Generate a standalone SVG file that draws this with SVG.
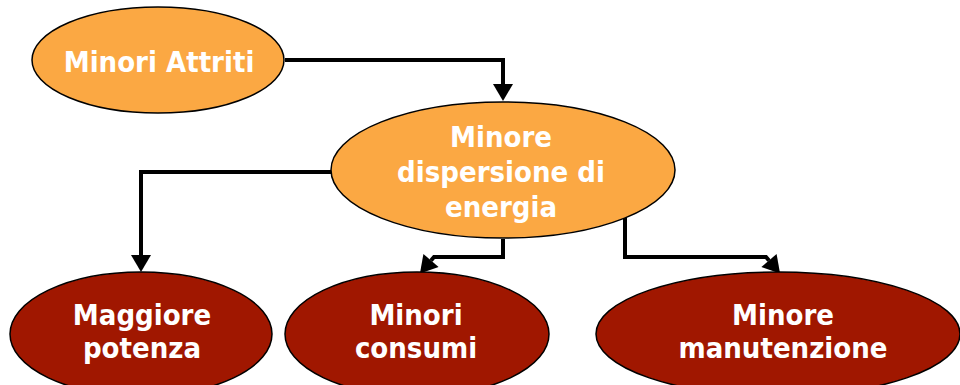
<svg xmlns="http://www.w3.org/2000/svg" width="960" height="385" viewBox="0 0 960 385">
<defs>
<style>
.o{fill:#FBA843;stroke:#000;stroke-width:1.5}
.r{fill:#A01700;stroke:#000;stroke-width:1.5}
.t{font-family:"DejaVu Sans Condensed","DejaVu Sans",sans-serif;font-weight:bold;font-size:29px;fill:#fff;text-anchor:middle}
.c{fill:none;stroke:#000;stroke-width:4}
</style>
<marker id="ah" markerUnits="userSpaceOnUse" markerWidth="20" markerHeight="22" viewBox="0 -11 18 22" refX="0" refY="0" orient="auto">
<path d="M0,-10 L17,0 L0,10 z" fill="#000"/>
</marker>
</defs>
<rect width="960" height="385" fill="#fff"/>
<g id="connectors">
<path class="c" d="M285,60 H503 V84" marker-end="url(#ah)"/>
<path class="c" d="M331,172 H141 V255" marker-end="url(#ah)"/>
<path class="c" d="M503,239 V257 H434 L431,260.5" marker-end="url(#ah)"/>
<path class="c" d="M625,218 V257 H766 L769,260.5" marker-end="url(#ah)"/>
</g>
<g id="n1">
<ellipse class="o" cx="158" cy="60" rx="126" ry="53"/>
<text class="t" x="159" y="72">Minori Attriti</text>
</g>
<g id="n2">
<ellipse class="o" cx="503" cy="170" rx="172" ry="68"/>
<text class="t" x="501" y="147">Minore</text>
<text class="t" x="501" y="182">dispersione di</text>
<text class="t" x="501" y="217">energia</text>
</g>
<g id="n3">
<ellipse class="r" cx="141" cy="334" rx="131" ry="62"/>
<text class="t" x="142" y="325">Maggiore</text>
<text class="t" x="142" y="358">potenza</text>
</g>
<g id="n4">
<ellipse class="r" cx="417" cy="334" rx="132" ry="62"/>
<text class="t" x="416" y="325">Minori</text>
<text class="t" x="416" y="358">consumi</text>
</g>
<g id="n5">
<ellipse class="r" cx="778" cy="334" rx="182" ry="62"/>
<text class="t" x="783" y="325">Minore</text>
<text class="t" x="783" y="358">manutenzione</text>
</g>
</svg>
